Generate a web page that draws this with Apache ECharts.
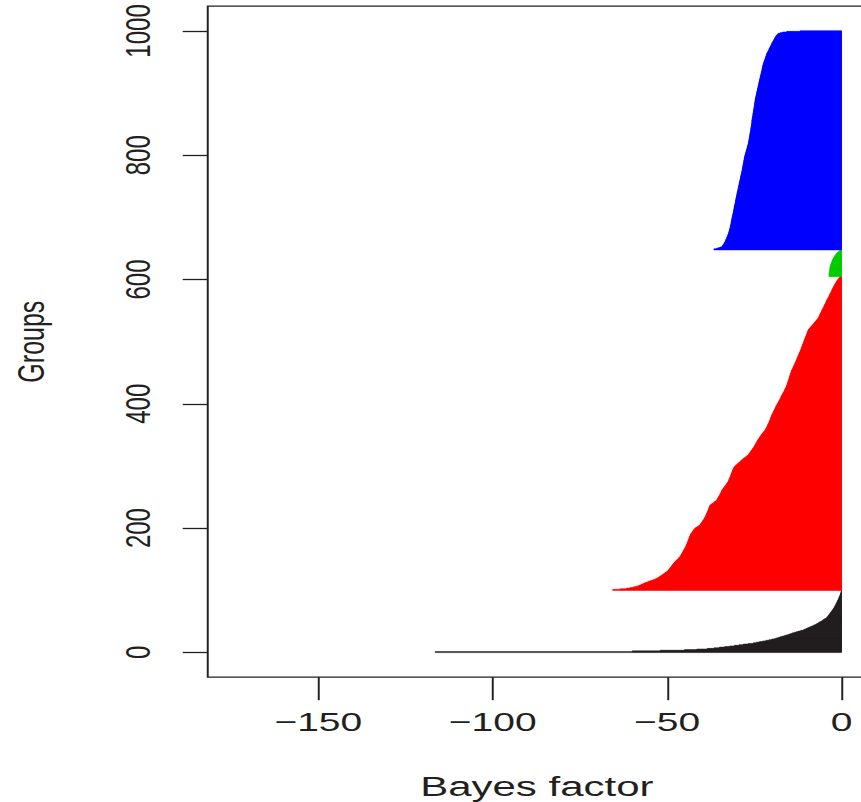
<!DOCTYPE html>
<html>
<head>
<meta charset="utf-8">
<script src="https://cdn.jsdelivr.net/npm/echarts@6/dist/echarts.min.js"></script>
<style>
  html, body { margin: 0; padding: 0; background: #fff; overflow: hidden; }
  /* the plot is laid out on a narrower canvas and widened by 1.5 */
  #chart { width: 574px; height: 802px; transform: scaleX(1.5); transform-origin: 0 0; }
</style>
</head>
<body>
<div id="chart"></div>
<script>
const groupLabel = 'Groups';
const valueLabel = 'Bayes factor';
const xTicks = [-150, -100, -50, 0];
const yTicks = [0, 200, 400, 600, 800, 1000];

// Bayes factor per group, sorted within each class (groups 1-100)
const blackBars = [
  -116.5,-60,-52,-45,-41.5,-38.5,-36.5,-35,-33.5,-32,
  -30.7,-29.4,-28.2,-26.8,-25.3,-24.4,-23.5,-22.6,-21.7,-20.8,
  -20,-19.2,-18.6,-18,-17.5,-16.9,-16.3,-15.7,-15.1,-14.6,
  -14.1,-13.5,-12.9,-12.3,-11.7,-11,-10.6,-10.2,-9.8,-9.4,
  -9,-8.6,-8.2,-7.8,-7.4,-7.1,-6.8,-6.5,-6.2,-5.9,
  -5.6,-5.3,-5.1,-4.8,-4.5,-4.25,-4.1,-3.95,-3.8,-3.7,
  -3.55,-3.4,-3.3,-3.15,-3,-2.9,-2.75,-2.6,-2.5,-2.35,
  -2.25,-2.15,-2.05,-1.95,-1.85,-1.75,-1.65,-1.6,-1.5,-1.4,
  -1.3,-1.25,-1.15,-1.05,-0.95,-0.9,-0.8,-0.75,-0.65,-0.6,
  -0.5,-0.45,-0.4,-0.3,-0.25,-0.2,-0.15,-0.1,-0.05,-0.02
];

// groups 101-605
const redBars = [
  -65.6,-63.5,-61.6,-60.6,-59.7,-59.0,-58.3,-57.9,-57.5,-57.1,-56.7,-56.3,-55.8,-55.4,-54.9,-54.4,-53.9,-53.4,-53.0,-52.7,
  -52.4,-52.2,-51.9,-51.6,-51.4,-51.1,-50.9,-50.6,-50.4,-50.1,
  -49.9,-49.7,-49.6,-49.4,-49.3,-49.1,-49.0,-48.8,-48.7,-48.6,-48.5,-48.3,-48.2,
  -48.0,-47.9,-47.7,-47.5,-47.4,-47.2,-47.0,-46.8,-46.7,-46.5,-46.3,
  -46.2,-46.1,-46.0,-45.9,-45.8,-45.7,-45.6,-45.5,-45.4,-45.3,-45.2,-45.1,-45.0,-44.9,
  -44.8,-44.7,-44.6,-44.6,-44.5,-44.4,-44.3,-44.3,-44.2,-44.1,-44.0,-44.0,-43.9,-43.8,-43.8,-43.7,-43.6,-43.6,-43.5,-43.4,-43.4,
  -43.3,-43.2,-43.0,-42.9,-42.8,-42.7,-42.5,-42.4,-42.3,-42.1,-42.0,
  -41.7,-41.4,-41.1,-40.9,-40.6,
  -40.5,-40.4,-40.2,-40.1,-40.0,-39.9,-39.8,-39.6,-39.5,-39.4,-39.3,-39.2,-39.1,
  -39.0,-38.9,-38.9,-38.8,-38.7,-38.6,-38.5,-38.5,-38.4,-38.3,-38.2,-38.2,-38.1,-38.0,-38.0,-37.9,-37.8,-37.8,-37.7,
  -37.4,-37.2,-36.9,-36.7,-36.5,-36.3,-36.0,-35.8,
  -35.7,-35.6,-35.5,-35.4,-35.3,-35.2,-35.1,-35.0,-34.9,-34.8,-34.7,-34.6,-34.5,-34.4,-34.4,-34.3,
  -34.2,-34.0,-33.9,-33.8,-33.6,-33.5,-33.4,-33.2,-33.1,-33.0,-32.9,-32.7,-32.6,-32.5,
  -32.4,-32.3,-32.3,-32.2,-32.1,-32.0,-32.0,-31.9,-31.8,-31.8,-31.7,-31.6,-31.6,-31.5,-31.4,-31.4,-31.3,-31.2,-31.2,-31.1,-31.0,
  -30.9,-30.8,-30.7,-30.5,-30.3,-30.1,-29.9,-29.7,-29.5,-29.3,-29.1,
  -28.9,-28.7,-28.5,-28.3,-28.1,-27.8,-27.6,-27.4,-27.2,-26.9,-26.7,
  -26.6,-26.5,-26.3,-26.2,-26.1,-26.0,-25.8,-25.7,-25.6,-25.5,-25.3,-25.2,-25.1,-25.0,-24.9,-24.8,
  -24.7,-24.6,-24.5,-24.4,-24.3,-24.2,-24.1,-24.0,-23.8,-23.7,-23.6,-23.5,-23.4,
  -23.3,-23.1,-23.0,-22.9,-22.7,-22.6,-22.4,-22.3,-22.2,-22.0,-21.9,-21.8,-21.7,-21.6,-21.5,-21.4,
  -21.3,-21.2,-21.2,-21.1,-21.0,-20.9,-20.8,-20.8,-20.7,-20.6,-20.5,-20.5,-20.4,-20.3,-20.3,-20.2,-20.1,-20.1,-20.0,
  -19.9,-19.8,-19.7,-19.6,-19.6,-19.5,-19.4,-19.3,-19.2,-19.1,-19.0,-18.9,-18.9,-18.8,-18.7,-18.6,
  -18.5,-18.4,-18.3,-18.2,-18.1,-18.0,-17.9,-17.8,-17.7,-17.6,-17.5,-17.4,-17.4,-17.3,-17.2,-17.1,
  -17.0,-16.9,-16.8,-16.7,-16.6,-16.5,-16.4,-16.3,-16.3,-16.2,-16.1,-16.0,-15.9,-15.8,-15.8,-15.7,
  -15.6,-15.6,-15.5,-15.5,-15.4,-15.3,-15.3,-15.2,-15.2,-15.1,-15.0,-15.0,-14.9,-14.9,-14.8,-14.8,-14.7,-14.7,-14.6,-14.5,-14.5,-14.4,-14.4,-14.3,
  -14.2,-14.1,-14.0,-13.9,-13.9,-13.8,-13.7,-13.6,-13.5,-13.4,-13.4,-13.3,-13.2,-13.1,-13.0,-13.0,-12.9,-12.8,-12.8,
  -12.7,-12.6,-12.5,-12.5,-12.4,-12.3,-12.2,-12.2,-12.1,-12.0,-11.9,-11.9,-11.8,-11.7,-11.6,-11.6,-11.5,-11.4,-11.4,
  -11.3,-11.2,-11.2,-11.1,-11.0,-11.0,-10.9,-10.8,-10.8,-10.7,-10.6,-10.6,-10.5,-10.4,-10.4,-10.3,-10.2,-10.1,-10.1,-10.0,-9.9,-9.9,-9.8,-9.7,-9.7,-9.6,-9.5,
  -9.4,-9.2,-9.1,-8.9,-8.8,-8.6,-8.5,-8.3,-8.2,-8.0,-7.9,-7.7,-7.6,-7.4,-7.3,-7.1,-7.0,-6.8,-6.7,
  -6.6,-6.5,-6.4,-6.3,-6.3,-6.2,-6.1,-6.0,-5.9,-5.8,-5.7,-5.7,-5.6,-5.5,-5.4,-5.3,-5.2,-5.1,-5.0,-5.0,-4.9,-4.8,-4.7,-4.6,-4.5,-4.4,-4.4,-4.3,-4.2,
  -4.1,-4.0,-3.9,-3.8,-3.7,-3.6,-3.5,-3.5,-3.4,-3.3,-3.2,-3.1,-3.0,-2.9,-2.8,-2.8,-2.7,-2.6,-2.5,-2.4,-2.35,
  -2.25,-2.15,-2.05,-1.95,-1.85,-1.75,-1.6,-1.5,-1.4,-1.3,-1.2,-1.05,-0.95,-0.8,-0.65,-0.5,-0.35
];

// groups 606-648
const greenBars = [
  -3.6,-3.6,-3.55,-3.55,-3.5,-3.5,-3.45,-3.45,-3.4,-3.4,-3.4,-3.35,-3.35,-3.3,-3.3,
  -3.25,-3.2,-3.15,-3.1,-3.0,-2.95,-2.9,-2.8,
  -2.75,-2.7,-2.6,-2.55,-2.45,-2.35,
  -2.25,-2.15,-2.05,-1.9,-1.8,-1.65,-1.55,-1.4,
  -1.25,-1.05,-0.85,-0.6,-0.35,-0.2
];

// groups 649-1000
const blueBars = [
  -36.6,-35.9,-35.3,-34.8,-34.3,
  -34.2,-34.1,-33.9,-33.8,-33.7,-33.6,-33.5,-33.4,
  -33.3,-33.2,-33.2,-33.1,-33.0,-32.9,-32.9,-32.8,-32.7,-32.6,-32.6,-32.5,-32.4,
  -32.4,-32.3,-32.3,-32.2,-32.2,-32.1,-32.1,-32.0,-32.0,-31.9,-31.9,-31.9,-31.8,-31.8,-31.7,-31.7,-31.7,-31.6,-31.6,-31.6,-31.5,-31.5,
  -31.5,-31.4,-31.4,-31.4,-31.3,-31.3,-31.2,-31.2,-31.2,-31.1,-31.1,-31.0,-31.0,-31.0,-30.9,-30.9,-30.9,-30.8,-30.8,-30.8,-30.7,-30.7,-30.7,-30.6,-30.6,-30.5,-30.5,
  -30.5,-30.4,-30.4,-30.4,-30.3,-30.3,-30.3,-30.2,-30.2,-30.2,-30.1,-30.1,-30.0,-30.0,-30.0,-29.9,-29.9,-29.9,-29.8,-29.8,-29.7,-29.7,-29.7,-29.6,
  -29.6,-29.5,-29.5,-29.5,-29.4,-29.4,-29.4,-29.3,-29.3,-29.2,-29.2,-29.2,-29.1,-29.1,-29.0,-29.0,-29.0,-28.9,-28.9,-28.9,-28.8,-28.8,-28.7,-28.7,-28.7,-28.6,
  -28.6,-28.5,-28.5,-28.5,-28.4,-28.4,-28.4,-28.3,-28.3,-28.3,-28.2,-28.2,-28.2,-28.1,-28.1,-28.1,-28.0,-28.0,-28.0,-27.9,-27.9,-27.9,-27.8,-27.8,-27.8,-27.7,-27.7,
  -27.6,-27.6,-27.5,-27.5,-27.4,-27.4,-27.3,-27.3,-27.2,-27.2,-27.1,-27.1,-27.0,-27.0,-26.9,-26.9,-26.8,-26.8,-26.7,-26.7,
  -26.7,-26.6,-26.6,-26.6,-26.5,-26.5,-26.5,-26.4,-26.4,-26.4,-26.3,-26.3,-26.3,-26.3,-26.2,-26.2,-26.2,-26.1,-26.1,-26.1,-26.0,-26.0,-26.0,-26.0,-25.9,-25.9,-25.9,-25.8,-25.8,-25.8,-25.8,-25.7,-25.7,-25.7,-25.7,-25.7,-25.7,
  -25.6,-25.6,-25.6,-25.5,-25.5,-25.5,-25.4,-25.4,-25.4,-25.4,-25.3,-25.3,-25.3,-25.2,-25.2,-25.2,-25.2,-25.1,-25.1,-25.1,-25.0,-25.0,-25.0,-25.0,-24.9,-24.9,-24.9,-24.9,-24.8,-24.8,-24.8,-24.8,
  -24.7,-24.7,-24.7,-24.6,-24.6,-24.5,-24.5,-24.5,-24.4,-24.4,-24.3,-24.3,-24.3,-24.2,-24.2,-24.1,-24.1,-24.1,-24.0,-24.0,-23.9,-23.9,-23.9,-23.8,-23.8,-23.7,-23.7,-23.7,-23.6,-23.6,-23.5,-23.5,-23.5,-23.4,-23.4,
  -23.3,-23.3,-23.3,-23.2,-23.2,-23.1,-23.1,-23.0,-23.0,-23.0,-22.9,-22.9,-22.8,-22.8,-22.8,-22.7,-22.7,-22.6,-22.6,-22.6,-22.5,-22.5,-22.4,-22.4,
  -22.3,-22.3,-22.2,-22.1,-22.1,-22.0,-21.9,-21.9,-21.8,-21.8,-21.7,-21.6,-21.6,-21.5,-21.5,-21.4,
  -21.3,-21.2,-21.1,-21.0,-20.9,-20.8,-20.8,-20.7,-20.6,-20.5,-20.4,-20.3,-20.2,-20.2,-20.1,-20.0,
  -19.9,-19.8,-19.7,-19.6,-19.5,-19.4,-19.3,-19.2,-19.1,-19.0,-18.9,-18.8,-18.6,-18.5,-18.3,-18.1,
  -17.5,-16.9,-15.7,-11.9
];

const classColours = ['#231f20', '#ff0000', '#00cd00', '#0000ff'];
const ink = '#231f20';
const font = 'Liberation Sans, Arial, Helvetica, sans-serif';
const plain = v => String(v).replace('-', '\u2212');

// one custom series per class; each group is a bar from 0 to its value,
// occupying the band [group - 1, group] on the vertical axis
let offset = 0;
const series = [blackBars, redBars, greenBars, blueBars].map((values, i) => {
  const data = values.map((v, j) => [v, offset + j + 1]);
  offset += values.length;
  return {
    type: 'custom',
    silent: true,
    animation: false,
    encode: { x: 0, y: 1 },
    data: data,
    renderItem: (params, api) => {
      const v = api.value(0);
      const g = api.value(1);
      const a = api.coord([v, g]);
      const b = api.coord([0, g - 1]);
      return {
        type: 'rect',
        shape: { x: a[0], y: a[1] - 0.25, width: b[0] - a[0], height: b[1] - a[1] + 0.5 },
        style: { fill: classColours[i], stroke: classColours[i], lineWidth: 0.4 }
      };
    }
  };
});

const chart = echarts.init(document.getElementById('chart'), null, { renderer: 'svg' });
chart.setOption({
  animation: false,
  backgroundColor: '#ffffff',
  grid: {
    left: 138.5, top: 6.1, width: 438.8, height: 671.1,
    containLabel: false, outerBoundsMode: 'none',
    show: true, borderColor: ink, borderWidth: 1.3, backgroundColor: 'transparent'
  },
  xAxis: {
    type: 'value', min: -181.7, max: 7,
    axisLine: { show: false, onZero: false },
    splitLine: { show: false },
    axisTick: { show: true, length: 23, customValues: xTicks, lineStyle: { color: ink, width: 1.3 } },
    axisLabel: { customValues: xTicks, margin: 32, fontSize: 26, fontFamily: font, color: ink, formatter: plain },
    name: valueLabel, nameLocation: 'middle', nameGap: 95, nameMoveOverlap: false,
    nameTextStyle: { fontSize: 28, fontFamily: font, color: ink }
  },
  yAxis: {
    type: 'value', min: -40, max: 1040,
    axisLine: { show: false, onZero: false },
    splitLine: { show: false },
    axisTick: { show: true, length: 16.7, customValues: yTicks, lineStyle: { color: ink, width: 1.3 } },
    axisLabel: { customValues: yTicks, rotate: 90, margin: 35, fontSize: 24, fontFamily: font, color: ink, formatter: plain },
    name: groupLabel, nameLocation: 'middle', nameGap: 105, nameMoveOverlap: false,
    nameTextStyle: { fontSize: 25, fontFamily: font, color: ink }
  },
  series: series
});
</script>
</body>
</html>
